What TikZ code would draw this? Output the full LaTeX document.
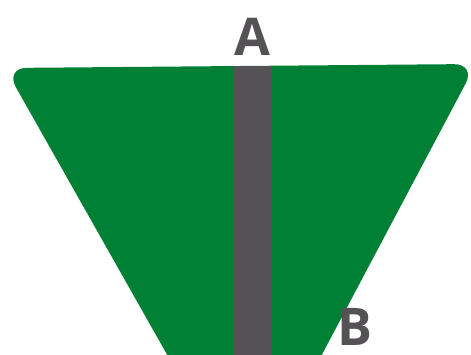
\documentclass[tikz,border=0pt]{standalone}
\usepackage{fontspec}
\setmainfont{Open Sans}
\definecolor{signgreen}{HTML}{008035}
\definecolor{bargray}{HTML}{545254}
\tikzset{
  lbl/.style={text=bargray, font=\fontsize{52}{52}\selectfont\bfseries, inner sep=0pt},
}
\begin{document}
\begin{tikzpicture}[x=1pt,y=-1pt]
\useasboundingbox (0,0) rectangle (471,355);
\begin{scope}
\clip (0,0) rectangle (471,355);
\fill[signgreen, rounded corners=22pt] (247,496) -- (5,68) -- (476,64) -- cycle;
\fill[bargray] (234,66.5) rectangle (272,356);
\end{scope}
\node[lbl] (A) at (252.5,36.5) {A};
\node[lbl] (B) at (355,327) {B};
\end{tikzpicture}
\end{document}
